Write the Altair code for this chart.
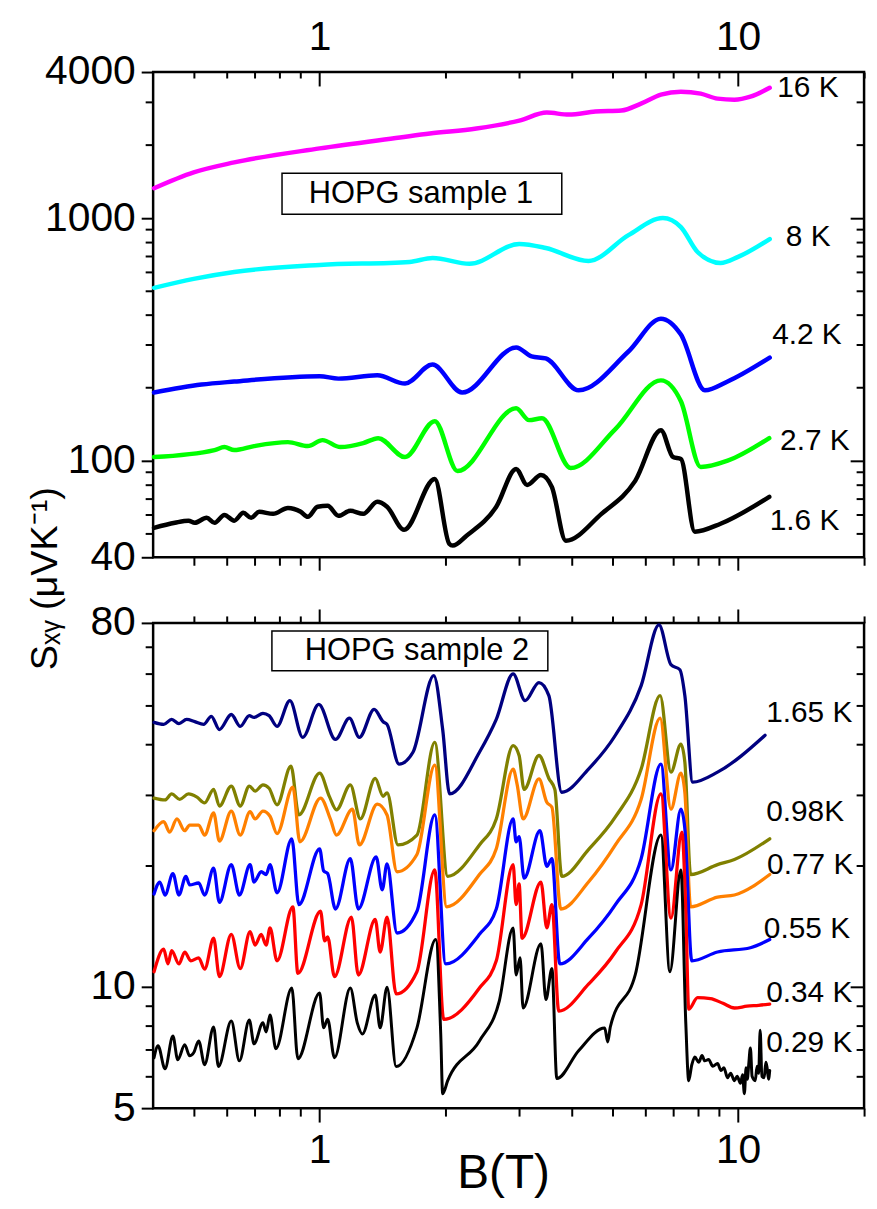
import altair as alt
import pandas as pd

FONT = "Liberation Sans"

# ---------------- data: HOPG sample 1 (top panel) ----------------
B_16K = [0.402, 0.5, 0.625, 1.0, 1.556, 1.834, 2.37, 3.0, 3.49, 3.94, 4.56, 5.26, 5.86, 6.54, 7.30, 8.14, 8.93, 9.80, 10.7, 11.9]
S_16K = [1328, 1544, 1697, 1938, 2150, 2233, 2341, 2524, 2722, 2671, 2748, 2775, 2964, 3227, 3320, 3258, 3108, 3078, 3166, 3447]

B_8K = [0.402, 0.5, 0.625, 1.0, 1.64, 1.863, 2.28, 3.0, 3.47, 4.39, 5.47, 6.61, 7.30, 8.0, 9.08, 10.0, 11.9]
S_8K = [516, 562, 600, 641, 660, 685, 648, 782, 753, 666, 851, 1000, 918, 725, 653, 692, 820]

B_42K = [0.402, 0.522, 0.625, 1.0, 1.109, 1.373, 1.60, 1.86, 2.19, 2.95, 3.21, 3.47, 4.16, 5.47, 6.54, 7.30, 8.33, 9.44, 11.9]
S_42K = [191, 206, 212, 223, 218, 225, 208, 249, 191, 293, 269, 264, 195, 282, 385, 331, 195, 212, 266]

B_27K = [0.402, 0.561, 0.592, 0.625, 0.697, 0.840, 0.937, 1.016, 1.121, 1.271, 1.380, 1.599, 1.884, 2.136,
         2.948, 3.166, 3.398, 3.98, 5.09, 6.54, 7.30, 8.14, 9.44, 11.87]
S_27K = [103.5, 110.6, 113.8, 110.6, 114.9, 119.3, 114.9, 121.6, 113.8, 118.2, 123.9, 103.5, 145.6, 90.7,
         164.5, 147, 149.6, 93.3, 135, 214.4, 175.8, 94.2, 100, 123.9]

B_16Kb = [0.402, 0.451, 0.486, 0.503, 0.537, 0.561, 0.592, 0.625, 0.657, 0.686, 0.717, 0.774, 0.840, 0.901,
          0.937, 0.989, 1.045, 1.109, 1.184, 1.271, 1.373, 1.449, 1.591, 1.884, 2.04, 2.08, 2.244, 2.643,
          2.948, 3.131, 3.380, 3.588, 3.875, 4.715, 5.677, 6.54, 6.99, 7.30, 7.88, 9.08, 11.87]
S_16Kb = [52.9, 55.5, 56.6, 55.5, 58.2, 55.5, 59.8, 56.6, 61.0, 58.2, 61.6, 60.4, 63.9, 61.6,
          58.7, 64.6, 65.2, 59.3, 62.2, 60.4, 67.7, 64.6, 51.9, 84.1, 45.5, 44.7, 49.1, 64.6,
          92.5, 79.5, 87.4, 78.0, 46.8, 60.4, 82.6, 133.6, 103.5, 101.6, 51.0, 55.0, 71.0]

top_labels = ["16 K", "8 K", "4.2 K", "2.7 K", "1.6 K"]
top_label_B = [12.4, 13.0, 12.06, 12.6, 11.9]
top_label_S = [3450, 836, 331, 120.5, 56.6]

# ---------------- data: HOPG sample 2 (bottom panel) ----------------
B_165 = [0.402, 0.424, 0.443, 0.461, 0.481, 0.503, 0.528, 0.551, 0.576, 0.615, 0.646, 0.679, 0.697, 0.732, 0.757,
         0.791, 0.849, 0.911, 0.995, 1.091, 1.178, 1.244, 1.350, 1.418, 1.449, 1.548, 1.671, 1.874, 1.968, 2.045,
         2.409, 2.643, 2.900, 3.097, 3.343, 3.53, 3.79, 4.39, 5.09, 5.866, 6.47, 6.91, 7.26, 7.46, 7.79, 8.93, 11.6]
S_165 = [45.3, 44.8, 46.1, 45.0, 46.1, 45.5, 44.8, 46.9, 43.5, 47.4, 44.3, 47.1, 46.6, 47.7, 47.1,
         44.3, 51.3, 41.6, 50.2, 41.1, 46.4, 41.6, 48.8, 45.5, 44.8, 35.7, 38.2, 59.2, 43.5, 30.1,
         38.2, 46.1, 59.8, 51.3, 56.9, 52.8, 30.4, 34.7, 42.1, 55.9, 79.1, 63.0, 61.2, 52.8, 32.2, 34.1, 42.1]

B_098 = [0.402, 0.427, 0.443, 0.463, 0.486, 0.508, 0.531, 0.558, 0.576, 0.615, 0.646, 0.679, 0.701, 0.732, 0.757,
         0.791, 0.854, 0.892, 1.0, 1.056, 1.097, 1.184, 1.251, 1.358, 1.418, 1.449, 1.539, 1.708, 1.884, 2.023,
         2.409, 2.643, 2.900, 2.997, 3.08, 3.343, 3.53, 3.648, 3.79, 4.39, 5.09, 5.866, 6.51, 6.91, 7.30,
         7.46, 7.70, 8.93, 9.80, 11.9]
S_098 = [29.4, 29.1, 30.1, 29.2, 30.1, 29.6, 28.6, 30.9, 28.1, 31.5, 28.1, 31.5, 30.6, 31.7, 31.1,
         28.3, 35.3, 26.7, 33.9, 29.6, 27.5, 31.7, 26.1, 32.9, 29.7, 30.3, 22.5, 23.8, 40.4, 18.8,
         22.5, 26.1, 39.7, 37.5, 30.9, 37.5, 32.9, 30.9, 18.8, 21.9, 26.4, 34.7, 52.8, 34.1, 40.0,
         36.1, 19.0, 20.1, 20.7, 23.3]

B_077 = [0.402, 0.424, 0.438, 0.456, 0.476, 0.489, 0.514, 0.531, 0.558, 0.576, 0.615, 0.646, 0.682, 0.701, 0.732,
         0.761, 0.791, 0.863, 0.897, 1.005, 1.062, 1.097, 1.198, 1.244, 1.373, 1.449, 1.531, 1.708, 1.884, 2.012,
         2.409, 2.643, 2.900, 2.964, 3.063, 3.343, 3.49, 3.59, 3.77, 4.39, 5.09, 5.866, 6.51, 6.91, 7.30,
         7.46, 7.70, 8.93, 9.80, 11.9]
S_077 = [24.4, 25.7, 24.2, 26.1, 24.4, 25.2, 25.2, 23.8, 27.0, 23.0, 27.3, 23.8, 27.2, 26.1, 27.3,
         26.5, 24.0, 31.3, 22.9, 29.4, 26.0, 23.8, 27.6, 22.5, 28.4, 26.7, 19.3, 21.3, 35.5, 15.8,
         19.0, 22.0, 34.7, 31.8, 26.1, 32.8, 28.7, 27.9, 15.6, 18.2, 22.5, 29.2, 46.4, 27.6, 33.9,
         30.4, 15.8, 16.7, 16.9, 19.0]

B_055 = [0.402, 0.415, 0.427, 0.446, 0.461, 0.479, 0.489, 0.514, 0.531, 0.558, 0.576, 0.615, 0.643, 0.682, 0.697,
         0.725, 0.745, 0.761, 0.791, 0.858, 0.892, 1.0, 1.022, 1.045, 1.091, 1.184, 1.237, 1.365, 1.411, 1.449,
         1.531, 1.708, 1.884, 2.001, 2.409, 2.643, 2.900, 2.948, 2.997, 3.08, 3.361, 3.49, 3.59, 3.749, 4.39,
         5.09, 5.866, 6.54, 6.91, 7.30, 7.46, 7.75, 8.93, 10.7, 11.9]
S_055 = [17.0, 18.2, 16.9, 19.1, 16.9, 18.8, 17.9, 18.1, 16.9, 19.7, 16.2, 20.1, 16.9, 20.1, 18.2,
         19.3, 19.0, 20.1, 17.1, 23.3, 16.0, 22.0, 19.4, 19.1, 15.6, 20.8, 15.6, 21.0, 17.4, 20.2,
         13.6, 15.4, 26.7, 11.4, 13.5, 15.6, 26.1, 22.9, 23.6, 18.6, 24.4, 19.9, 20.8, 11.4, 13.2,
         16.0, 20.8, 35.7, 19.5, 27.6, 24.7, 11.6, 12.2, 12.5, 13.1]

B_034 = [0.402, 0.424, 0.434, 0.443, 0.461, 0.476, 0.492, 0.514, 0.531, 0.558, 0.576, 0.615, 0.646, 0.682, 0.701,
         0.725, 0.745, 0.761, 0.791, 0.863, 0.887, 1.005, 1.028, 1.045, 1.085, 1.191, 1.237, 1.358, 1.395, 1.449,
         1.523, 1.708, 1.884, 1.979, 2.409, 2.643, 2.900, 2.948, 2.997, 3.046, 3.380, 3.49, 3.59, 3.728, 4.39,
         5.09, 5.866, 6.54, 6.91, 7.34, 7.50, 7.62, 8.0, 8.59, 9.2, 9.80, 10.5, 11.2, 11.9]
S_034 = [10.9, 12.4, 11.4, 12.3, 11.4, 12.2, 11.6, 11.8, 11.06, 13.2, 10.6, 13.5, 11.1, 13.7, 12.7,
         13.5, 12.7, 14.0, 11.6, 15.8, 10.8, 15.4, 13.0, 13.3, 10.6, 14.9, 10.7, 14.7, 12.2, 14.9,
         9.6, 10.9, 19.5, 8.3, 9.93, 11.6, 20.1, 16.0, 18.0, 13.2, 18.2, 14.0, 16.0, 8.7, 10.15,
         12.2, 16.0, 30.1, 14.8, 24.2, 15.4, 8.8, 9.4, 9.35, 9.1, 8.86, 8.95, 9.0, 9.06]

B_029 = [0.402, 0.411, 0.427, 0.446, 0.458, 0.476, 0.489, 0.500, 0.514, 0.531, 0.558, 0.573, 0.615, 0.643, 0.679,
         0.697, 0.732, 0.745, 0.761, 0.786, 0.858, 0.887, 1.0, 1.022, 1.045, 1.085, 1.184, 1.230, 1.265, 1.358,
         1.395, 1.449, 1.523, 1.708, 1.894, 1.947, 1.968, 2.023, 2.409, 2.687, 2.900, 2.948, 3.013, 3.063, 3.380,
         3.473, 3.59, 3.688, 4.157, 4.80, 4.88, 4.95, 5.677, 6.54, 6.87, 7.30, 7.50, 7.62, 7.75, 7.88, 8.05,
         8.2, 8.32, 8.5, 8.7, 8.93, 9.1, 9.25, 9.43, 9.6, 9.8, 9.95, 10.13, 10.25, 10.35, 10.45, 10.52,
         10.6, 10.7, 10.8, 10.99, 11.1, 11.2, 11.29, 11.4, 11.54, 11.65, 11.73, 11.82, 11.9]
S_029 = [6.67, 7.14, 6.26, 7.55, 6.59, 7.18, 6.74, 6.86, 7.34, 6.41, 7.95, 6.34, 8.23, 6.55, 8.27,
         7.22, 8.14, 7.73, 8.51, 7.02, 9.93, 6.63, 9.65, 7.91, 8.31, 6.67, 9.93, 8.14, 7.64, 9.54,
         7.91, 9.98, 6.34, 7.91, 13.1, 7.64, 5.43, 5.85, 7.34, 9.22, 14.0, 10.7, 11.8, 8.86, 12.8,
         9.3, 11.1, 5.92, 6.94, 7.9, 7.3, 7.95, 10.7, 23.8, 10.9, 19.5, 8.09, 5.85, 6.4, 6.7, 6.5,
         6.75, 6.55, 6.6, 6.35, 6.45, 6.2, 6.3, 5.95, 6.1, 5.85, 6.0, 5.76, 6.05, 5.43, 6.3, 5.9,
         6.4, 7.05, 6.0, 5.85, 6.35, 6.1, 7.8, 6.0, 5.95, 6.5, 6.3, 5.9, 6.2]

bot_labels = ["1.65 K", "0.98K", "0.77 K", "0.55 K", "0.34 K", "0.29 K"]
bot_label_B = [11.67, 11.67, 11.73, 11.52, 11.67, 11.67]
bot_label_S = [47.9, 27.2, 20.1, 13.9, 9.65, 7.26]

# annotation boxes (data coordinates)
box1_B = [0.813, 3.79]
box1_S = [1038, 1530]
box1_text = "HOPG sample 1"
box1_text_pos = [1.746, 1254]
box2_B = [0.769, 3.51]
box2_S = [60.9, 76.4]
box2_text = "HOPG sample 2"
box2_text_pos = [1.708, 68.2]

# ticks
x_major = [1, 10]
x_minor = [0.5, 0.6, 0.7, 0.8, 0.9, 2, 3, 4, 5, 6, 7, 8, 9, 20]
ytop_labels = [40, 100, 1000, 4000]
ytop_minor = [50, 60, 70, 80, 90, 200, 300, 400, 500, 600, 700, 800, 900, 2000, 3000]
ybot_labels = [5, 10, 80]
ybot_minor = [6, 7, 8, 9, 20, 30, 40, 50, 60, 70]

# ---------------- chart construction ----------------
W, H = 715, 488
X_SCALE = alt.Scale(type="log", domain=[0.4, 20], nice=False)
Y_TOP = alt.Scale(type="log", domain=[40, 4000], nice=False)
Y_BOT = alt.Scale(type="log", domain=[5, 80], nice=False)


def curve_df(B, S):
    if len(B) != len(S):
        raise ValueError(f"length mismatch {len(B)} vs {len(S)}")
    return pd.DataFrame({"B": B, "S": S, "i": list(range(len(B)))})


def line_layer(B, S, color, width, yscale):
    return alt.Chart(curve_df(B, S)).mark_line(
        color=color, strokeWidth=width, interpolate="monotone", strokeJoin="round", strokeCap="round"
    ).encode(
        x=alt.X("B:Q", scale=X_SCALE, axis=None),
        y=alt.Y("S:Q", scale=yscale, axis=None),
        order="i:Q",
    )


def axis_layer(yscale, ydom, xaxis=None, yaxis=None):
    df = pd.DataFrame({"B": [0.4, 20], "S": ydom})
    return alt.Chart(df).mark_point(opacity=0).encode(
        x=alt.X("B:Q", scale=X_SCALE, axis=xaxis),
        y=alt.Y("S:Q", scale=yscale, axis=yaxis),
    )


def tick_axis(orient, values, size, inward=False):
    kw = dict(orient=orient, values=values, tickSize=size, labels=False, domain=False,
              grid=False, title=None, ticks=True, tickColor="black", tickWidth=2)
    if inward:
        kw["offset"] = -size
    return alt.Axis(**kw)


def label_layer(labels, Bs, Ss, yscale, size):
    df = pd.DataFrame({"B": Bs, "S": Ss, "t": labels})
    return alt.Chart(df).mark_text(align="left", baseline="middle", font=FONT, fontSize=size,
                                   color="black").encode(
        x=alt.X("B:Q", scale=X_SCALE, axis=None),
        y=alt.Y("S:Q", scale=yscale, axis=None),
        text="t:N",
    )


def box_layers(bB, bS, text, pos, yscale):
    rdf = pd.DataFrame({"B": [bB[0]], "B2": [bB[1]], "S": [bS[0]], "S2": [bS[1]]})
    rect = alt.Chart(rdf).mark_rect(fill="white", stroke="black", strokeWidth=1.5).encode(
        x=alt.X("B:Q", scale=X_SCALE, axis=None), x2="B2:Q",
        y=alt.Y("S:Q", scale=yscale, axis=None), y2="S2:Q",
    )
    tdf = pd.DataFrame({"B": [pos[0]], "S": [pos[1]], "t": [text]})
    txt = alt.Chart(tdf).mark_text(align="center", baseline="middle", font=FONT, fontSize=31,
                                   color="black").encode(
        x=alt.X("B:Q", scale=X_SCALE, axis=None),
        y=alt.Y("S:Q", scale=yscale, axis=None),
        text="t:N",
    )
    return [rect, txt]


LBL = dict(labelFont=FONT, labelFontSize=41, labelColor="black", labelFlush=False,
           labelOverlap=False, format="~g", domain=False, grid=False)

# ---- top panel ----
ytop_dom = [40, 4000]
top_axes = [
    # top x labels (outside), ticks inward
    axis_layer(Y_TOP, ytop_dom, xaxis=alt.Axis(orient="top", values=x_major, tickSize=0, labelPadding=23,
                                               labelBaseline="alphabetic", title=None, **LBL)),
    axis_layer(Y_TOP, ytop_dom, xaxis=tick_axis("top", x_major, 14, inward=True)),
    axis_layer(Y_TOP, ytop_dom, xaxis=tick_axis("top", x_minor, 6, inward=True)),
    # bottom x ticks outward
    axis_layer(Y_TOP, ytop_dom, xaxis=tick_axis("bottom", x_major, 13)),
    axis_layer(Y_TOP, ytop_dom, xaxis=tick_axis("bottom", x_minor, 8)),
    # left y labels + major ticks, with shared y title
    axis_layer(Y_TOP, ytop_dom, yaxis=alt.Axis(
        orient="left", values=ytop_labels, tickSize=12, labelPadding=6, labelAlign="right",
        labelBaseline="middle", tickColor="black", tickWidth=2,
        title="Sₓᵧ (μVK⁻¹)", titleFont=FONT, titleFontSize=38, titleFontWeight="normal",
        titleColor="black", titleAngle=270, titleX=-108, titleY=509, titleAlign="center",
        titleBaseline="middle", **LBL)),
    axis_layer(Y_TOP, ytop_dom, yaxis=tick_axis("left", ytop_minor, 8)),
    # right y ticks inward
    axis_layer(Y_TOP, ytop_dom, yaxis=tick_axis("right", [100, 1000], 14, inward=True)),
    axis_layer(Y_TOP, ytop_dom, yaxis=tick_axis("right", ytop_minor, 8, inward=True)),
]
top_lines = [
    line_layer(B_16K, S_16K, "#FF00FF", 4.5, Y_TOP),
    line_layer(B_8K, S_8K, "#00FFFF", 4.5, Y_TOP),
    line_layer(B_42K, S_42K, "#0000FF", 4.5, Y_TOP),
    line_layer(B_27K, S_27K, "#00FF00", 4.5, Y_TOP),
    line_layer(B_16Kb, S_16Kb, "#000000", 4.5, Y_TOP),
]
top = alt.layer(
    *top_axes, *top_lines,
    *box_layers(box1_B, box1_S, box1_text, box1_text_pos, Y_TOP),
    label_layer(top_labels, top_label_B, top_label_S, Y_TOP, 30),
).resolve_axis(x="independent", y="independent").properties(width=W, height=H)

# ---- bottom panel ----
ybot_dom = [5, 80]
bot_axes = [
    # bottom x labels + major ticks outward, with x title
    axis_layer(Y_BOT, ybot_dom, xaxis=alt.Axis(
        orient="bottom", values=x_major, tickSize=14, labelPadding=41, labelBaseline="alphabetic",
        tickColor="black", tickWidth=2,
        title="B(T)", titleFont=FONT, titleFontSize=48, titleFontWeight="normal", titleColor="black",
        titleX=352, titleY=80, titleAlign="center", titleBaseline="alphabetic", **LBL)),
    axis_layer(Y_BOT, ybot_dom, xaxis=tick_axis("bottom", x_minor, 8)),
    # top x ticks outward
    axis_layer(Y_BOT, ybot_dom, xaxis=tick_axis("top", x_major, 14)),
    axis_layer(Y_BOT, ybot_dom, xaxis=tick_axis("top", x_minor, 7)),
    # left y
    axis_layer(Y_BOT, ybot_dom, yaxis=alt.Axis(
        orient="left", values=ybot_labels, tickSize=12, labelPadding=6, labelAlign="right",
        labelBaseline="middle", tickColor="black", tickWidth=2, title=None, **LBL)),
    axis_layer(Y_BOT, ybot_dom, yaxis=tick_axis("left", ybot_minor, 8)),
    # right y inward
    axis_layer(Y_BOT, ybot_dom, yaxis=tick_axis("right", [10], 14, inward=True)),
    axis_layer(Y_BOT, ybot_dom, yaxis=tick_axis("right", ybot_minor, 8, inward=True)),
]
bot_lines = [
    line_layer(B_165, S_165, "#000080", 3.3, Y_BOT),
    line_layer(B_098, S_098, "#808000", 3.3, Y_BOT),
    line_layer(B_077, S_077, "#FF8000", 3.3, Y_BOT),
    line_layer(B_055, S_055, "#0000FF", 3.3, Y_BOT),
    line_layer(B_034, S_034, "#FF0000", 3.3, Y_BOT),
    line_layer(B_029, S_029, "#000000", 3.0, Y_BOT),
]
bottom = alt.layer(
    *bot_axes, *bot_lines,
    *box_layers(box2_B, box2_S, box2_text, box2_text_pos, Y_BOT),
    label_layer(bot_labels, bot_label_B, bot_label_S, Y_BOT, 30),
).resolve_axis(x="independent", y="independent").properties(width=W, height=H)

chart = alt.vconcat(top, bottom, spacing=66, bounds="flush").properties(
    padding={"left": 25, "top": 11, "right": 9, "bottom": 8},
    background="white",
).configure_view(stroke="black", strokeWidth=2.5).configure_axis(
    labelFont=FONT, titleFont=FONT
)

chart.save("out.html", embed_options={"renderer": "svg", "actions": False})
